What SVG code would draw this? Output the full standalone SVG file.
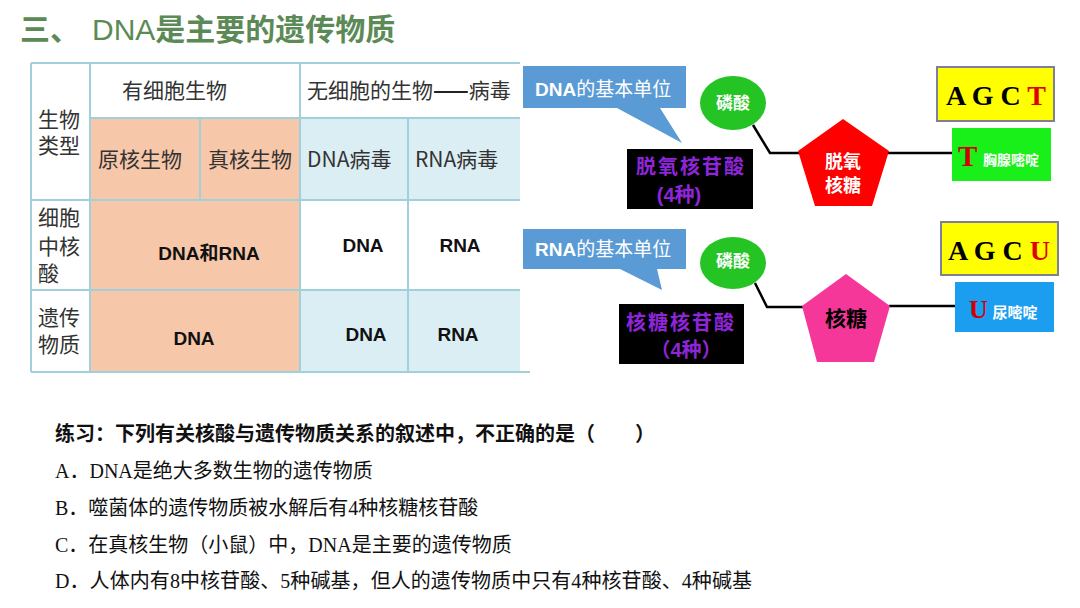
<svg xmlns="http://www.w3.org/2000/svg" width="1080" height="608" viewBox="0 0 1080 608">
<style>
.tt{font-family:"Noto Sans CJK SC","Liberation Sans",sans-serif;fill:#333;font-size:21px}
.tb{font-family:"Liberation Sans","Noto Sans CJK SC",sans-serif;font-weight:bold;fill:#111;font-size:19px;text-anchor:middle}
.grid{stroke:#9fd0dc;stroke-width:2;fill:none}
.call{fill:#5b9bd5}
.callt{font-family:"Liberation Sans","Noto Sans CJK SC",sans-serif;fill:#fff;font-size:19px}
.blk{fill:#000}
.pt{font-family:"Liberation Sans","Noto Sans CJK SC",sans-serif;font-weight:bold;fill:#8f25d8;font-size:20px;text-anchor:middle}
.circ{fill:#25c425}
.wt{font-family:"Noto Sans CJK SC",sans-serif;font-weight:bold;fill:#fff;text-anchor:middle}
.yel{fill:#ffff00;stroke:#7f7f99;stroke-width:2}
.base{font-family:"Liberation Serif",serif;font-weight:bold;font-size:28px;fill:#000;text-anchor:middle}
.red{fill:#e00000}
.conn{stroke:#000;stroke-width:2.5;fill:none}
.q{font-family:"Liberation Serif","Noto Sans CJK SC",serif;font-size:20px;fill:#111}
</style>

<text x="20" y="40" font-family="Noto Sans CJK SC,sans-serif" font-weight="bold" font-size="30" fill="#5b8a57">三、</text>
<text x="92" y="40" font-family="Liberation Sans,Noto Sans CJK SC,sans-serif" font-size="30" fill="#5b8a57">DNA<tspan font-family="Noto Sans CJK SC,sans-serif" font-weight="bold">是主要的遗传物质</tspan></text>

<g id="table">
<rect x="90" y="118" width="210" height="254" fill="#f7c7aa"/>
<rect x="300" y="118" width="220" height="82" fill="#dbeef4"/>
<rect x="300" y="290" width="220" height="82" fill="#dbeef4"/>
<path class="grid" d="M31,63H520 M90,118H520 M31,200H520 M31,290H520 M31,372H530 M31,63V372 M90,63V372 M300,63V372 M200,118V200 M408,118V372"/>
<text class="tt" x="122" y="98">有细胞生物</text>
<text class="tt" x="307" y="98">无细胞的生物<tspan font-weight="bold" fill="#222">——</tspan>病毒</text>
<text class="tt" x="38" y="127">生物<tspan x="38" y="153">类型</tspan></text>
<text class="tt" x="98" y="167">原核生物</text>
<text class="tt" x="208" y="167">真核生物</text>
<text class="tt" x="307" y="167">DNA病毒</text>
<text class="tt" x="415" y="167">RNA病毒</text>
<text class="tt" x="38" y="225">细胞<tspan x="38" y="254">中核</tspan><tspan x="38" y="281">酸</tspan></text>
<text class="tt" x="38" y="325">遗传<tspan x="38" y="352">物质</tspan></text>
<text class="tb" x="209" y="260">DNA<tspan font-family="Noto Sans CJK SC,sans-serif">和</tspan>RNA</text>
<text class="tb" x="363" y="252">DNA</text>
<text class="tb" x="460" y="252">RNA</text>
<text class="tb" x="194" y="345">DNA</text>
<text class="tb" x="366" y="341">DNA</text>
<text class="tb" x="458" y="341">RNA</text>
</g>

<g id="connectors">
<path class="conn" d="M753,125 L770,153 H800"/>
<path class="conn" d="M888,153 H953"/>
<path class="conn" d="M755,283 L767,307 H803"/>
<path class="conn" d="M889,306 H956"/>
</g>

<g id="dna-callout">
<path class="call" d="M523,66 H686 V108 H660 L682,143 L617,108 H523 Z"/>
<text class="callt" x="535" y="96"><tspan font-weight="bold">DNA</tspan>的基本单位</text>
</g>
<g id="dna-nucleotide">
<rect class="blk" x="627" y="149" width="126" height="60"/>
<text class="pt" x="691" y="174" letter-spacing="2">脱氧核苷酸</text>
<text class="pt" x="679" y="202">(4种)</text>
</g>
<g id="dna-phosphate">
<ellipse class="circ" cx="733" cy="103" rx="33" ry="27"/>
<text class="wt" x="733" y="109" font-size="17">磷酸</text>
</g>
<g id="dna-sugar">
<polygon points="843,119 889,151 872,206 815,206 798,151" fill="#ff0000"/>
<text class="wt" x="843" y="168" font-size="18">脱氧</text>
<text class="wt" x="843" y="192" font-size="18">核糖</text>
</g>
<g id="dna-bases">
<rect class="yel" x="937" y="67" width="117" height="54"/>
<text class="base" x="996" y="105">A G C <tspan class="red">T</tspan></text>
</g>
<g id="dna-thymine">
<rect x="952" y="128" width="99" height="53" fill="#19ef19"/>
<text x="958" y="166" font-family="Liberation Serif,serif" font-weight="bold" font-size="29" fill="#d00000">T</text>
<text class="wt" x="1011" y="165" font-size="14">胸腺嘧啶</text>
</g>

<g id="rna-callout">
<path class="call" d="M523,229 H686 V269 H657 L662,290 L620,269 H523 Z"/>
<text class="callt" x="535" y="256"><tspan font-weight="bold">RNA</tspan>的基本单位</text>
</g>
<g id="rna-nucleotide">
<rect class="blk" x="619" y="304" width="125" height="60"/>
<text class="pt" x="681" y="330" letter-spacing="2">核糖核苷酸</text>
<text class="pt" x="686" y="357">（4种）</text>
</g>
<g id="rna-phosphate">
<ellipse class="circ" cx="733" cy="263" rx="33" ry="26"/>
<text class="wt" x="733" y="267" font-size="17">磷酸</text>
</g>
<g id="rna-sugar">
<polygon points="846,274 890,306 874,362 817,362 802,306" fill="#f5379a"/>
<text class="wt" x="846" y="326" font-size="21" style="fill:#000">核糖</text>
</g>
<g id="rna-bases">
<rect class="yel" x="941" y="222" width="117" height="53"/>
<text class="base" x="999" y="260">A G C <tspan class="red">U</tspan></text>
</g>
<g id="rna-uracil">
<rect x="955" y="282" width="99" height="50" fill="#1c9ef0"/>
<text x="969" y="318" font-family="Liberation Serif,serif" font-weight="bold" font-size="26" fill="#d00000">U</text>
<text class="wt" x="1015" y="318" font-size="15">尿嘧啶</text>
</g>

<g id="question">
<text class="q" x="55" y="441" font-family="Noto Sans CJK SC,sans-serif" font-weight="bold">练习：下列有关核酸与遗传物质关系的叙述中，不正确的是（　　）</text>
<text class="q" x="55" y="478">A．DNA是绝大多数生物的遗传物质</text>
<text class="q" x="55" y="515">B．噬菌体的遗传物质被水解后有4种核糖核苷酸</text>
<text class="q" x="55" y="552">C．在真核生物（小鼠）中，DNA是主要的遗传物质</text>
<text class="q" x="55" y="588" textLength="697" lengthAdjust="spacing">D．人体内有8中核苷酸、5种碱基，但人的遗传物质中只有4种核苷酸、4种碱基</text>
</g>
</svg>
